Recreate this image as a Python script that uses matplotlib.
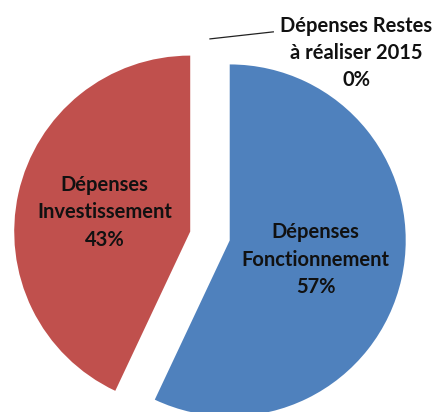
import numpy as np
import matplotlib.pyplot as plt

# Chart data
categories = ['Dépenses\nFonctionnement', 'Dépenses\nInvestissement', 'Dépenses Restes\nà réaliser 2015']
values = [57, 43, 0]
colors = ['#4F81BD', '#C0504D', '#9BBB59']
explode = [0.115, 0.115, 0.0]

plt.rcParams['font.family'] = ['Lato', 'DejaVu Sans']

fig = plt.figure(figsize=(4.4, 4.12), dpi=100)
ax = fig.add_axes([0, 0, 1, 1])

wedges, _ = ax.pie(values, colors=colors, explode=explode, startangle=90,
                   counterclock=False, radius=1.0,
                   wedgeprops=dict(linewidth=0))

total = sum(values)
for w, cat, v in zip(wedges, categories, values):
    mid = np.deg2rad((w.theta1 + w.theta2) / 2)
    cx, cy = w.center
    label = f"{cat}\n{v / total * 100:.0f}%"
    if v > 0:
        # label inside the slice
        tx = cx + 0.5 * np.cos(mid)
        ty = cy + 0.5 * np.sin(mid)
        ax.text(tx, ty, label, ha='center', va='center', fontsize=14.5,
                fontweight='bold', color='#111111', linespacing=1.45)
    else:
        # outside label with leader line
        x0, y0 = cx + 1.12 * np.cos(mid), cy + 1.12 * np.sin(mid)
        x1, y1 = x0 + 0.36, y0 + 0.04
        ax.plot([x0, x1], [y0, y1], color='#222222', linewidth=0.9)
        ax.text(x1 + 0.47, y0 - 0.08, label, ha='center', va='center',
                fontsize=14.5, fontweight='bold', color='#111111', linespacing=1.45)

ax.set_xlim(-1.193, 1.307)
ax.set_ylim(-1.0, 1.341)
ax.set_aspect('equal')
ax.axis('off')

fig.savefig('out.png', dpi=100)
